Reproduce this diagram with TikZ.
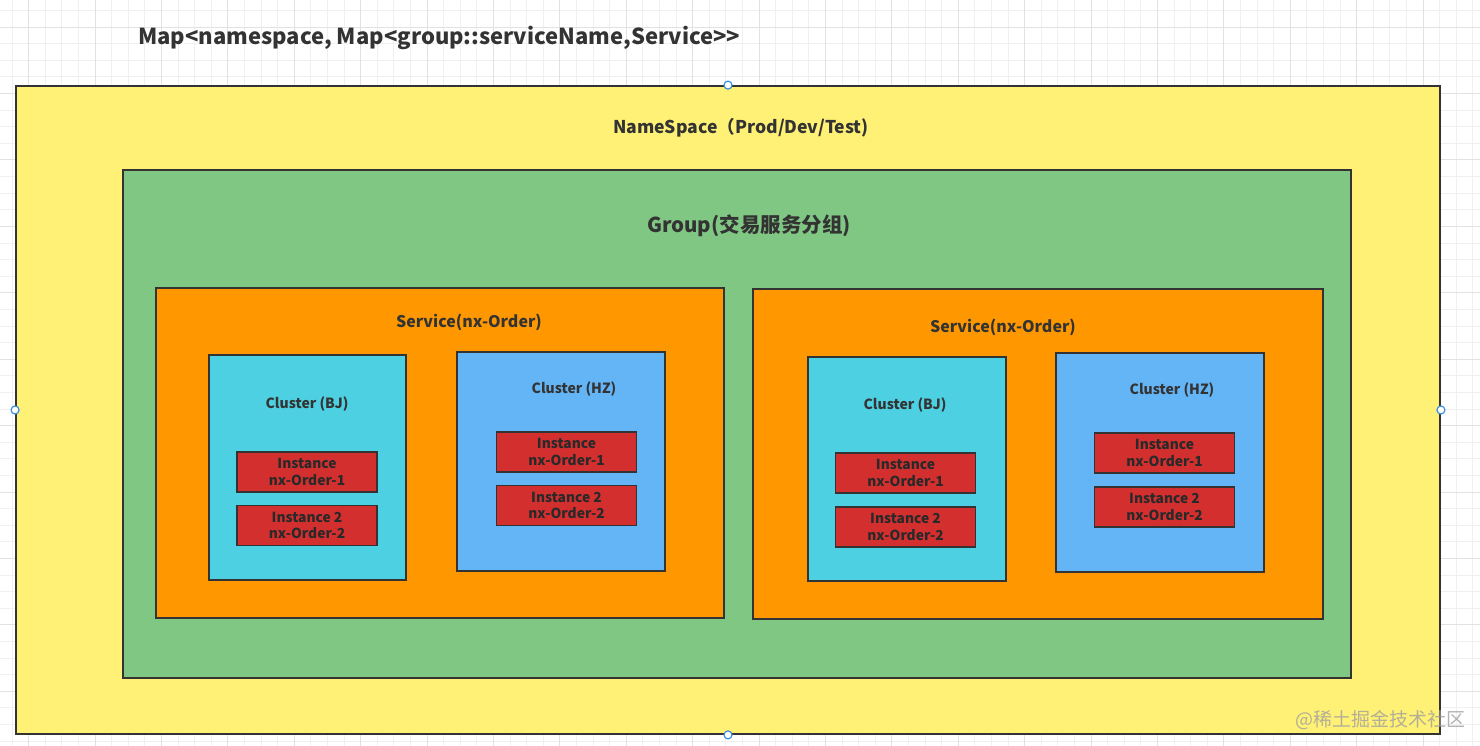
\documentclass[tikz,border=0pt]{standalone}
\usepackage{fontspec}
\setmainfont{Noto Sans CJK SC}
\usepackage{xcolor}

\definecolor{nsyellow}{HTML}{FFF176}
\definecolor{grpgreen}{HTML}{81C784}
\definecolor{svcorange}{HTML}{FF9800}
\definecolor{bjcyan}{HTML}{4DD0E1}
\definecolor{hzblue}{HTML}{64B5F6}
\definecolor{insred}{HTML}{D32F2F}
\definecolor{edgegray}{HTML}{333333}
\definecolor{txtgray}{HTML}{333333}
\definecolor{gridminor}{HTML}{F0F0F0}
\definecolor{gridmajor}{HTML}{E2E2E2}
\definecolor{handleblue}{HTML}{3D8FE0}

\begin{document}
\begin{tikzpicture}[x=1pt, y=-1pt,
  box/.style={draw=edgegray, line width=1.8pt, inner sep=0pt},
  lbl/.style={text=txtgray, font=\bfseries, inner sep=0pt},
  inst/.style={box, fill=insred, minimum width=140pt, minimum height=40pt,
    text=txtgray!80!black, align=center, font=\bfseries\fontsize{13.8}{16.5}\selectfont},
  handle/.style={circle, draw=handleblue, fill=white, line width=1.2pt,
    minimum size=8pt, inner sep=0pt}]

  \useasboundingbox (0,0) rectangle (1480,746);
  \fill[white] (0,0) rectangle (1480,746);

  % Grid
  \foreach \i in {0,...,89} {
    \draw[gridminor, line width=0.8pt] (12+16.6*\i,0) -- (12+16.6*\i,746);
  }
  \foreach \i in {0,...,45} {
    \draw[gridminor, line width=0.8pt] (0,10.5+16.6*\i) -- (1480,10.5+16.6*\i);
  }
  \foreach \i in {0,...,22} {
    \draw[gridmajor, line width=0.8pt] (28.6+66.4*\i,0) -- (28.6+66.4*\i,746);
  }
  \foreach \i in {0,...,11} {
    \draw[gridmajor, line width=0.8pt] (0,27.1+66.4*\i) -- (1480,27.1+66.4*\i);
  }

  % Title
  \node (title) [lbl, anchor=west, font=\bfseries\fontsize{22}{26}\selectfont]
    at (138,38) {Map<namespace, Map<group::serviceName,Service>\kern0pt>};

  % NameSpace (yellow)
  \node (ns) [box, fill=nsyellow, minimum width=1424pt, minimum height=648pt] at (728,410) {};
  \node (nslbl) [lbl, font=\bfseries\fontsize{17.6}{20}\selectfont] at (741,128) {NameSpace（Prod/Dev/Test)};

  % Group (green)
  \node (grp) [box, fill=grpgreen, minimum width=1228pt, minimum height=508pt] at (737,424) {};
  \node (grplbl) [lbl, font=\bfseries\fontsize{20.5}{24}\selectfont] at (749,226) {Group(交易服务分组)};

  % Service left
  \node (svcA) [box, fill=svcorange, minimum width=568pt, minimum height=330pt] at (440,453) {};
  \node (svcAlbl) [lbl, font=\bfseries\fontsize{16}{19}\selectfont] at (469,322) {Service(nx-Order)};

  % Service right
  \node (svcB) [box, fill=svcorange, minimum width=570pt, minimum height=330pt] at (1038,454) {};
  \node (svcBlbl) [lbl, font=\bfseries\fontsize{16}{19}\selectfont] at (1003,327) {Service(nx-Order)};

  % Clusters, left service
  \node (bjA) [box, fill=bjcyan, minimum width=197pt, minimum height=225pt] at (307.5,467.5) {};
  \node (bjAlbl) [lbl, font=\bfseries\fontsize{14}{17}\selectfont] at (307,404) {Cluster (BJ)};
  \node (hzA) [box, fill=hzblue, minimum width=208pt, minimum height=219pt] at (561,461.5) {};
  \node (hzAlbl) [lbl, font=\bfseries\fontsize{14}{17}\selectfont] at (574,389) {Cluster (HZ)};

  % Clusters, right service
  \node (bjB) [box, fill=bjcyan, minimum width=198pt, minimum height=224pt] at (907,469) {};
  \node (bjBlbl) [lbl, font=\bfseries\fontsize{14}{17}\selectfont] at (905,405) {Cluster (BJ)};
  \node (hzB) [box, fill=hzblue, minimum width=208pt, minimum height=219pt] at (1160,462.5) {};
  \node (hzBlbl) [lbl, font=\bfseries\fontsize{14}{17}\selectfont] at (1172,390) {Cluster (HZ)};

  % Instances
  \node (bjA1) [inst] at (307,472) {Instance\\nx-Order-1};
  \node (bjA2) [inst] at (307,525.5) {Instance 2\\nx-Order-2};
  \node (hzA1) [inst] at (566.5,452) {Instance\\nx-Order-1};
  \node (hzA2) [inst] at (566.5,505.5) {Instance 2\\nx-Order-2};
  \node (bjB1) [inst] at (905.5,473) {Instance\\nx-Order-1};
  \node (bjB2) [inst] at (905.5,527) {Instance 2\\nx-Order-2};
  \node (hzB1) [inst] at (1164.5,453) {Instance\\nx-Order-1};
  \node (hzB2) [inst] at (1164.5,507) {Instance 2\\nx-Order-2};

  % Selection handles
  \node (hn) [handle] at (ns.north) {};
  \node (hs) [handle] at (ns.south) {};
  \node (hw) [handle] at (ns.west) {};
  \node (he) [handle] at (ns.east) {};

  % Watermark
  \node (wm) [anchor=east, inner sep=0pt, text=gray!75, opacity=0.8,
    font=\fontsize{19}{22}\selectfont] at (1466,720) {@稀土掘金技术社区};

\end{tikzpicture}
\end{document}
